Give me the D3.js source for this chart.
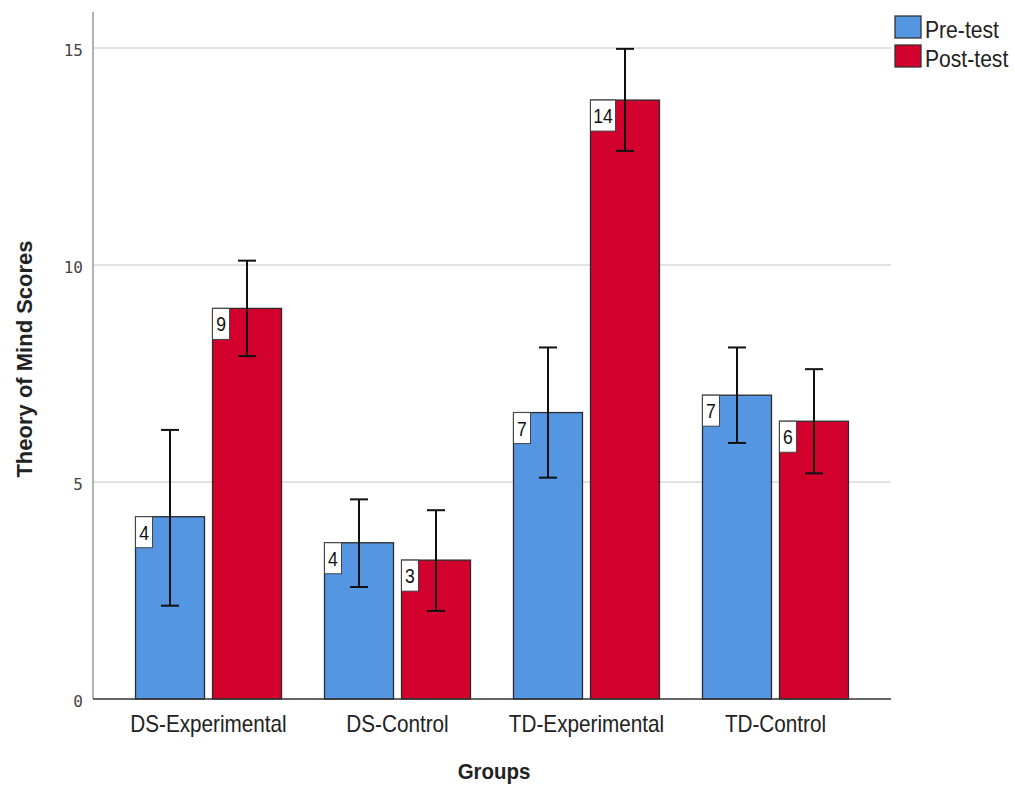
<!DOCTYPE html>
<html>
<head>
<meta charset="utf-8" />
<script src="https://d3js.org/d3.v7.min.js"></script>
<style>
  body { margin: 0; background: #fff; }
  svg { display: block; }
  text { font-family: "Liberation Sans", Arial, sans-serif; }
</style>
</head>
<body>
<div id="chart"></div>
<script>
// groups and series
var groups = ["DS-Experimental", "DS-Control", "TD-Experimental", "TD-Control"];
var series = ["Pre-test", "Post-test"];

// means (bar heights)
var preMean  = [4.2, 3.6, 6.6, 7.0];
var postMean = [9.0, 3.2, 13.8, 6.4];
// error bar bounds
var preLow   = [2.15, 2.58, 5.1, 5.9];
var preHigh  = [6.2, 4.6, 8.1, 8.1];
var postLow  = [7.9, 2.03, 12.63, 5.2];
var postHigh = [10.1, 4.35, 14.98, 7.6];
// value labels shown on the bars
var preLabel  = ["4", "4", "7", "7"];
var postLabel = ["9", "3", "14", "6"];

var yTicks = [0, 5, 10, 15];
var colors = ["#5596e3", "#d2002d"];

var W = 1015, H = 787;
var plotLeft = 93, plotRight = 891, plotTop = 12, plotBottom = 699;

var svg = d3.select("#chart").append("svg")
  .attr("width", W).attr("height", H);

var y = d3.scaleLinear().domain([0, 15]).range([plotBottom, 48]);

var x0 = d3.scaleBand().domain(groups).range([plotLeft, plotRight])
  .paddingInner(0.2275).paddingOuter(0.225);
var x1 = d3.scaleBand().domain(series).range([0, x0.bandwidth()])
  .paddingInner(0.104).paddingOuter(0);

// table built from the arrays
var rows = [];
groups.forEach(function (g, i) {
  rows.push({g: g, s: series[0], v: preMean[i], lo: preLow[i], hi: preHigh[i], lab: preLabel[i], c: colors[0]});
  rows.push({g: g, s: series[1], v: postMean[i], lo: postLow[i], hi: postHigh[i], lab: postLabel[i], c: colors[1]});
});

// gridlines
svg.append("g")
  .selectAll("line")
  .data(yTicks.filter(function (d) { return d > 0; }))
  .enter().append("line")
  .attr("x1", plotLeft).attr("x2", plotRight)
  .attr("y1", function (d) { return y(d); })
  .attr("y2", function (d) { return y(d); })
  .attr("stroke", "#c8c8c8").attr("stroke-width", 1.2);

// y axis line
svg.append("line")
  .attr("x1", plotLeft).attr("x2", plotLeft).attr("y1", plotTop).attr("y2", plotBottom)
  .attr("stroke", "#9a9a9a").attr("stroke-width", 1.5);

// y tick labels
svg.append("g")
  .selectAll("text")
  .data(yTicks)
  .enter().append("text")
  .attr("x", 83)
  .attr("y", function (d) { return y(d) + 8; })
  .attr("text-anchor", "end")
  .style("font-family", "DejaVu Sans Mono, monospace")
  .style("font-size", "16px")
  .style("fill", "#444")
  .text(function (d) { return d; });

// bars
var bar = svg.append("g")
  .selectAll("g")
  .data(rows)
  .enter().append("g")
  .attr("transform", function (d) { return "translate(" + (x0(d.g) + x1(d.s)) + ",0)"; });

bar.append("rect")
  .attr("x", 0)
  .attr("y", function (d) { return y(d.v); })
  .attr("width", x1.bandwidth())
  .attr("height", function (d) { return y(0) - y(d.v); })
  .attr("fill", function (d) { return d.c; })
  .attr("stroke", "#2b2b2b").attr("stroke-width", 1.3);

// error bars
var cx = x1.bandwidth() / 2, cap = 9;
bar.append("line")
  .attr("x1", cx).attr("x2", cx)
  .attr("y1", function (d) { return y(d.hi); })
  .attr("y2", function (d) { return y(d.lo); })
  .attr("stroke", "#111").attr("stroke-width", 2);
bar.append("line")
  .attr("x1", cx - cap).attr("x2", cx + cap)
  .attr("y1", function (d) { return y(d.hi); })
  .attr("y2", function (d) { return y(d.hi); })
  .attr("stroke", "#111").attr("stroke-width", 2);
bar.append("line")
  .attr("x1", cx - cap).attr("x2", cx + cap)
  .attr("y1", function (d) { return y(d.lo); })
  .attr("y2", function (d) { return y(d.lo); })
  .attr("stroke", "#111").attr("stroke-width", 2);

// value label boxes
bar.append("rect")
  .attr("x", 0)
  .attr("y", function (d) { return y(d.v); })
  .attr("width", function (d) { return d.lab.length > 1 ? 25 : 17; })
  .attr("height", 31)
  .attr("fill", "#fff")
  .attr("stroke", "#444").attr("stroke-width", 1);
bar.append("text")
  .attr("transform", function (d) {
    var tx = d.lab.length > 1 ? 12.5 : 8.5;
    return "translate(" + tx + "," + (y(d.v) + 23) + ") scale(0.88,1)";
  })
  .attr("text-anchor", "middle")
  .style("font-size", "20px")
  .style("fill", "#111")
  .text(function (d) { return d.lab; });

// x axis line
svg.append("line")
  .attr("x1", plotLeft).attr("x2", plotRight).attr("y1", plotBottom).attr("y2", plotBottom)
  .attr("stroke", "#333").attr("stroke-width", 1.5);

// category labels
svg.append("g")
  .selectAll("text")
  .data(groups)
  .enter().append("text")
  .attr("transform", function (d) {
    return "translate(" + (x0(d) + x0.bandwidth() / 2) + ",732) scale(0.9,1)";
  })
  .attr("text-anchor", "middle")
  .style("font-size", "23px")
  .style("fill", "#222")
  .text(function (d) { return d; });

// axis titles
svg.append("text")
  .attr("transform", "translate(494,779) scale(0.93,1)")
  .attr("text-anchor", "middle")
  .style("font-size", "22px").style("font-weight", "bold").style("fill", "#222")
  .text("Groups");

svg.append("text")
  .attr("transform", "translate(32,359) rotate(-90)")
  .attr("text-anchor", "middle")
  .style("font-size", "22px").style("font-weight", "bold").style("fill", "#222")
  .text("Theory of Mind Scores");

// legend
var leg = svg.append("g").attr("transform", "translate(895,16)");
var li = leg.selectAll("g").data(series).enter().append("g")
  .attr("transform", function (d, i) { return "translate(0," + (i * 29) + ")"; });
li.append("rect")
  .attr("width", 26).attr("height", 22)
  .attr("fill", function (d, i) { return colors[i]; })
  .attr("stroke", "#333").attr("stroke-width", 1.3);
li.append("text")
  .attr("transform", "translate(30,22) scale(0.88,1)")
  .style("font-size", "24px").style("fill", "#222")
  .text(function (d) { return d; });
</script>
</body>
</html>
